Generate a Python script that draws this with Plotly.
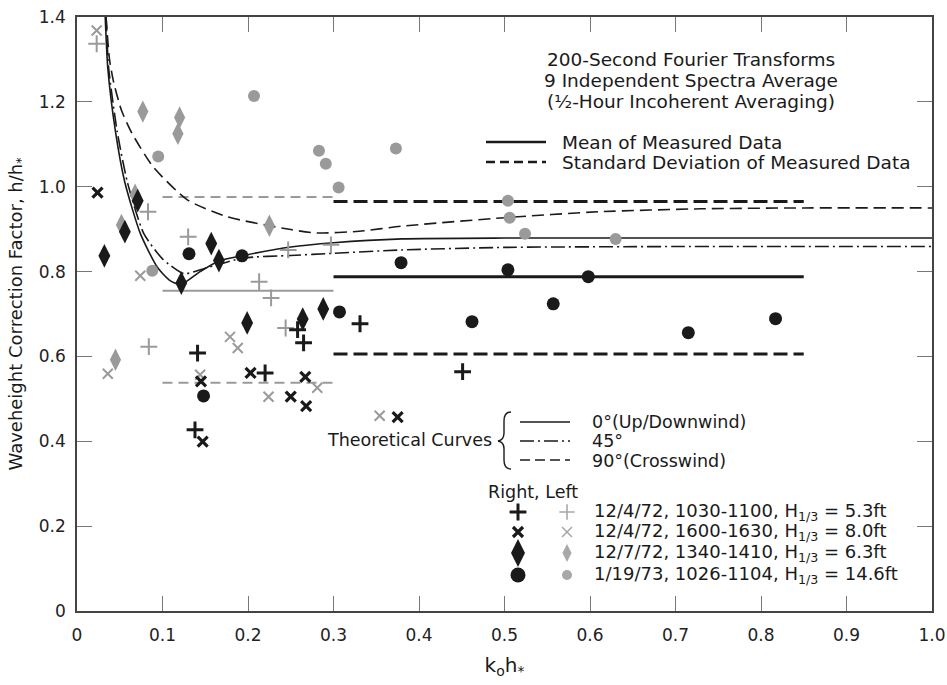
import plotly.graph_objects as go

# ---- measured correction factors: right probe (black) and left probe (gray) ----
r_plus_x = [0.141, 0.138, 0.220, 0.258, 0.265, 0.331, 0.451]
r_plus_y = [0.608, 0.427, 0.561, 0.663, 0.632, 0.677, 0.564]
r_x_x = [0.024, 0.145, 0.147, 0.203, 0.250, 0.268, 0.267, 0.375]
r_x_y = [0.986, 0.541, 0.399, 0.561, 0.505, 0.483, 0.552, 0.457]
r_dia_x = [0.032, 0.056, 0.071, 0.122, 0.157, 0.166, 0.199, 0.264, 0.288]
r_dia_y = [0.837, 0.894, 0.967, 0.773, 0.866, 0.826, 0.679, 0.688, 0.712]
r_dot_x = [0.131, 0.148, 0.193, 0.307, 0.379, 0.462, 0.504, 0.557, 0.598, 0.715, 0.817]
r_dot_y = [0.842, 0.507, 0.837, 0.705, 0.821, 0.682, 0.804, 0.724, 0.788, 0.656, 0.689]

l_plus_x = [0.023, 0.083, 0.130, 0.084, 0.213, 0.227, 0.247, 0.297, 0.244]
l_plus_y = [1.337, 0.941, 0.882, 0.623, 0.776, 0.738, 0.851, 0.863, 0.667]
l_x_x = [0.023, 0.074, 0.036, 0.144, 0.179, 0.188, 0.224, 0.281, 0.354]
l_x_y = [1.368, 0.790, 0.559, 0.557, 0.646, 0.620, 0.505, 0.526, 0.460]
l_dia_x = [0.077, 0.120, 0.118, 0.068, 0.052, 0.045, 0.225]
l_dia_y = [1.177, 1.163, 1.125, 0.981, 0.910, 0.592, 0.908]
l_dot_x = [0.095, 0.088, 0.207, 0.283, 0.291, 0.306, 0.373, 0.504, 0.506, 0.524, 0.630]
l_dot_y = [1.071, 0.802, 1.214, 1.085, 1.054, 0.998, 1.090, 0.967, 0.927, 0.889, 0.877]

# ---- mean and standard deviation bands of measured data ----
low_band_x = [0.10, 0.30]
low_mean = 0.755
low_std_hi = 0.976
low_std_lo = 0.538
high_band_x = [0.30, 0.85]
high_mean = 0.788
high_std_hi = 0.965
high_std_lo = 0.606

# ---- theoretical curves ----
th0_x = [0.033, 0.036, 0.045, 0.056, 0.074, 0.094, 0.108, 0.121, 0.144, 0.166, 0.195, 0.25, 0.30, 0.38, 0.50, 0.70, 1.00]
th0_y = [1.40, 1.28, 1.13, 1.01, 0.89, 0.81, 0.78, 0.769, 0.80, 0.825, 0.838, 0.858, 0.868, 0.877, 0.879, 0.879, 0.879]
th45_x = [0.034, 0.037, 0.047, 0.059, 0.078, 0.100, 0.125, 0.150, 0.195, 0.25, 0.30, 0.38, 0.50, 0.70, 1.00]
th45_y = [1.40, 1.28, 1.13, 1.01, 0.89, 0.83, 0.795, 0.808, 0.832, 0.838, 0.843, 0.851, 0.857, 0.859, 0.859]
th90_x = [0.034, 0.038, 0.043, 0.052, 0.064, 0.089, 0.129, 0.176, 0.25, 0.28, 0.33, 0.38, 0.50, 0.61, 0.73, 0.85, 1.00]
th90_y = [1.40, 1.30, 1.245, 1.18, 1.127, 1.047, 0.969, 0.929, 0.899, 0.891, 0.895, 0.907, 0.927, 0.941, 0.948, 0.950, 0.950]

x_ticks = [0, 0.1, 0.2, 0.3, 0.4, 0.5, 0.6, 0.7, 0.8, 0.9, 1.0]
x_tick_text = ["0", "0.1", "0.2", "0.3", "0.4", "0.5", "0.6", "0.7", "0.8", "0.9", "1.0"]
y_ticks = [0, 0.2, 0.4, 0.6, 0.8, 1.0, 1.2, 1.4]
y_tick_text = ["0", "0.2", "0.4", "0.6", "0.8", "1.0", "1.2", "1.4"]

legend_rows = [
    "12/4/72, 1030-1100, H<sub>1/3</sub> = 5.3ft",
    "12/4/72, 1600-1630, H<sub>1/3</sub> = 8.0ft",
    "12/7/72, 1340-1410, H<sub>1/3</sub> = 6.3ft",
    "1/19/73, 1026-1104, H<sub>1/3</sub> = 14.6ft",
]

# ---- page geometry (pixels) ----
W, H = 947, 685
L, R, T, B = 77, 932, 17, 611
FONT = "DejaVu Sans"
INK = "#1a1a1a"
GRAY = "#9a9a9a"


def px(xp):
    return (xp - L) / (R - L)


def py(yp):
    return (B - yp) / (B - T)


def dx(xp):
    # pixel -> data x (axis spans 0..1)
    return (xp - L) / (R - L) * 1.0


def dy(yp):
    # pixel -> data y (axis spans 0..1.4)
    return (B - yp) / (B - T) * 1.4


fig = go.Figure()


def line(x, y, color, width, dash="solid", shape="linear"):
    fig.add_trace(go.Scatter(x=x, y=y, mode="lines", hoverinfo="skip",
                             line=dict(color=color, width=width, dash=dash, shape=shape,
                                       smoothing=0.6)))


# measured bands
line(low_band_x, [low_std_hi] * 2, GRAY, 2, "10px,6px")
line(low_band_x, [low_mean] * 2, GRAY, 2)
line(low_band_x, [low_std_lo] * 2, GRAY, 2, "10px,6px")
line(high_band_x, [high_std_hi] * 2, INK, 3, "14px,6px")
line(high_band_x, [high_mean] * 2, INK, 3)
line(high_band_x, [high_std_lo] * 2, INK, 3, "14px,6px")

# theoretical curves
line(th0_x, th0_y, INK, 1.6, "solid", "spline")
line(th45_x, th45_y, INK, 1.6, "14px,4px,2px,4px", "spline")
line(th90_x, th90_y, INK, 1.6, "12px,6px", "spline")


def pts(x, y, symbol, size, color, lw=0):
    m = dict(symbol=symbol, size=size, color=color)
    if symbol.endswith("thin"):
        m["line"] = dict(color=color, width=lw)
    else:
        m["line"] = dict(width=0)
    fig.add_trace(go.Scatter(x=x, y=y, mode="markers", marker=m, hoverinfo="skip"))


# left probe (gray)
pts(l_plus_x, l_plus_y, "cross-thin", 12, GRAY, 2)
pts(l_x_x, l_x_y, "x-thin", 10, GRAY, 2)
pts(l_dia_x, l_dia_y, "diamond-tall", 16, GRAY)
pts(l_dot_x, l_dot_y, "circle", 12, GRAY)
# right probe (black)
pts(r_plus_x, r_plus_y, "cross-thin", 12, INK, 3)
pts(r_x_x, r_x_y, "x-thin", 10, INK, 3.2)
pts(r_dia_x, r_dia_y, "diamond-tall", 17, INK)
pts(r_dot_x, r_dot_y, "circle", 13, INK)

# key glyphs for the symbol legend
key_rows_px = [512, 532, 553, 575]
key_black_px, key_gray_px = 518, 567
key_specs = [("cross-thin", 12, 3, "cross-thin", 11, 1.6),
             ("x-thin", 10, 3.2, "x-thin", 10, 1.6),
             ("diamond-tall", 20, 0, "diamond-tall", 13, 0),
             ("circle", 15, 0, "circle", 10, 0)]
for yp, (bs, bsz, blw, gs, gsz, glw) in zip(key_rows_px, key_specs):
    pts([dx(key_black_px)], [dy(yp)], bs, bsz, INK, blw)
    pts([dx(key_gray_px)], [dy(yp)], gs, gsz, "#a8a8a8", glw)

shapes = []


def seg(x0, x1, yp, color, width, dash="solid"):
    shapes.append(dict(type="line", xref="paper", yref="paper",
                       x0=px(x0), x1=px(x1), y0=py(yp), y1=py(yp),
                       line=dict(color=color, width=width, dash=dash)))


# measured-data key
seg(486, 546, 142, INK, 2.5)
seg(486, 546, 162, INK, 2.5, "9px,5px")
# theoretical-curve key
seg(520, 570, 422, INK, 1.6)
seg(520, 570, 441, INK, 1.6, "14px,4px,2px,4px")
seg(520, 570, 460, INK, 1.6, "10px,5px")

# curly brace
brace = [("M", 511, 412), ("Q", 504, 412, 504, 421), ("L", 504, 433), ("Q", 504, 440, 498, 441),
         ("Q", 504, 442, 504, 449), ("L", 504, 460), ("Q", 504, 469, 511, 469)]
path = ""
for cmd in brace:
    c = cmd[0]
    vals = cmd[1:]
    coords = []
    for i in range(0, len(vals), 2):
        coords.append(f"{px(vals[i]):.5f},{py(vals[i + 1]):.5f}")
    path += c + " " + " ".join(coords) + " "
shapes.append(dict(type="path", xref="paper", yref="paper", path=path.strip(),
                   line=dict(color=INK, width=1.4)))

annotations = []


def txt(xp, yp, s, anchor="left", size=18):
    annotations.append(dict(x=px(xp), y=py(yp), xref="paper", yref="paper", text=s,
                            showarrow=False, xanchor=anchor, yanchor="middle",
                            font=dict(family=FONT, size=size, color=INK)))


txt(691, 60, "200-Second Fourier Transforms", "center", 18.5)
txt(691, 81, "9 Independent Spectra Average", "center", 18.5)
txt(691, 102, "(½-Hour Incoherent Averaging)", "center", 18.5)
txt(560, 142, "Mean of Measured Data", size=18.5)
txt(560, 162, "Standard Deviation of Measured Data", size=18.5)
txt(494, 440, "Theoretical Curves", "right", 17.5)
txt(590, 422, "0°(Up/Downwind)", size=17.5)
txt(590, 441, "45°", size=17.5)
txt(590, 461, "90°(Crosswind)", size=17.5)
txt(486, 492, "Right, Left", size=17.5)
for yp, s in zip(key_rows_px, legend_rows):
    txt(592, yp, s, size=18)

axis_common = dict(showline=True, linecolor="#444", linewidth=1.5, mirror="ticks",
                   ticks="inside", ticklen=15, tickwidth=1, tickcolor="#777",
                   showgrid=False, zeroline=False, automargin=False,
                   tickfont=dict(family=FONT, size=17, color="#222"))

fig.update_layout(
    width=W, height=H,
    margin=dict(l=L, r=W - R, t=T, b=H - B, autoexpand=False),
    paper_bgcolor="white", plot_bgcolor="white",
    showlegend=False,
    shapes=shapes, annotations=annotations,
    xaxis=dict(range=[0, 1.0], tickvals=x_ticks, ticktext=x_tick_text,
               ticklabelstandoff=8,
               title=dict(text="k<sub>o</sub>h<sub>*</sub>", standoff=14,
                          font=dict(family=FONT, size=20, color=INK)),
               **axis_common),
    yaxis=dict(range=[0, 1.4], tickvals=y_ticks, ticktext=y_tick_text,
               ticklabelstandoff=6,
               title=dict(text="Waveheight Correction Factor, h/h<sub>*</sub>", standoff=12,
                          font=dict(family=FONT, size=18, color=INK)),
               **axis_common),
)

fig.write_html("out.html")
